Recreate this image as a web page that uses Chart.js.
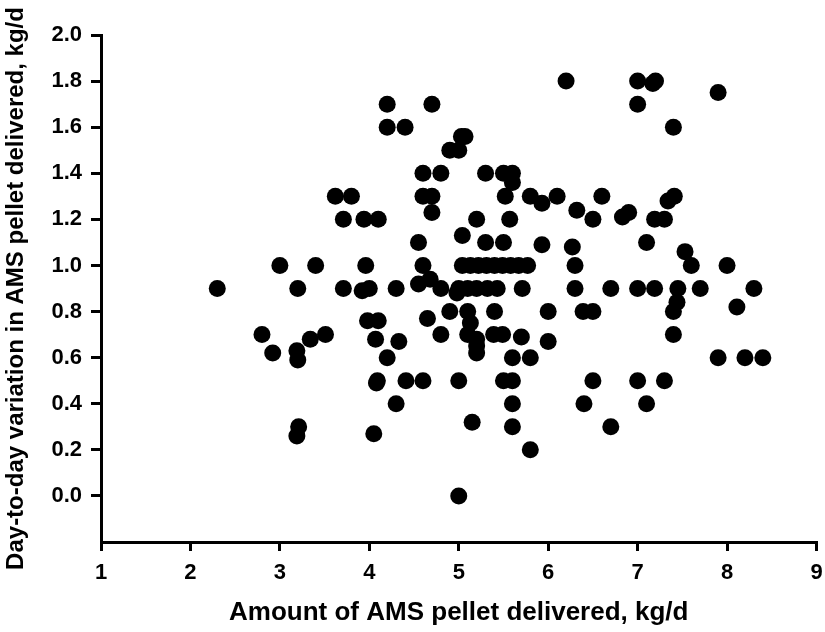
<!DOCTYPE html>
<html>
<head>
<meta charset="utf-8">
<script src="https://cdn.jsdelivr.net/npm/chart.js@4/dist/chart.umd.min.js"></script>
<style>
html,body{margin:0;padding:0;background:#fff;}
#wrap{width:825px;height:632px;}
</style>
</head>
<body>
<div id="wrap"><canvas id="c" width="825" height="632"></canvas></div>
<script>
const xTitle = 'Amount of AMS pellet delivered, kg/d';
const yTitle = 'Day-to-day variation in AMS pellet delivered, kg/d';
const xTickValues = [1,2,3,4,5,6,7,8,9];
const yTickValues = [0.0,0.2,0.4,0.6,0.8,1.0,1.2,1.4,1.6,1.8,2.0];

const amountDelivered = [
2.3,2.8,2.92,3.0,3.2,3.19,3.2,3.21,3.19,3.34,3.4,3.51,3.62,3.8,3.71,3.94,4.1,3.71,3.92,4.0,
3.96,3.98,4.1,4.07,4.33,4.09,4.08,4.2,4.41,4.3,4.3,4.05,4.2,4.2,4.4,4.7,4.9,5.0,5.03,5.07,
4.6,4.8,5.3,5.5,5.6,5.6,4.6,4.7,4.7,5.52,5.8,6.1,5.93,6.32,5.2,5.57,4.55,5.04,5.3,5.5,
5.93,6.27,4.6,4.55,4.68,4.8,5.04,5.13,5.22,5.31,5.4,5.49,5.58,5.67,5.77,5.0,5.1,5.2,5.32,5.43,
4.98,5.71,4.9,5.1,5.4,6.0,4.65,5.13,4.8,5.1,5.2,5.2,5.2,5.39,5.49,5.7,6.0,5.6,5.8,4.6,
5.0,5.5,5.6,5.6,5.15,5.6,5.8,5.0,6.3,6.2,7.0,7.17,7.2,7.0,7.9,7.4,6.6,7.41,7.34,6.5,
6.83,6.9,7.19,7.3,7.1,7.53,7.6,8.0,6.3,6.7,7.0,7.19,7.45,7.7,8.3,7.44,7.4,6.39,6.5,8.11,
7.4,7.9,8.2,8.4,6.5,7.0,7.3,6.4,7.1,6.7
];
const dayToDayVariation = [
0.9,0.7,0.62,1.0,0.9,0.63,0.59,0.3,0.26,0.68,1.0,0.7,1.3,1.3,1.2,1.2,1.2,0.9,0.89,0.9,
1.0,0.76,0.76,0.68,0.67,0.5,0.49,0.6,0.5,0.9,0.4,0.27,1.7,1.6,1.6,1.7,1.5,1.5,1.56,1.56,
1.4,1.4,1.4,1.4,1.4,1.36,1.3,1.3,1.23,1.3,1.3,1.3,1.27,1.24,1.2,1.2,1.1,1.13,1.1,1.1,
1.09,1.08,1.0,0.92,0.94,0.9,1.0,1.0,1.0,1.0,1.0,1.0,1.0,1.0,1.0,0.9,0.9,0.9,0.9,0.9,
0.88,0.9,0.8,0.8,0.8,0.8,0.77,0.75,0.7,0.7,0.68,0.65,0.62,0.7,0.7,0.69,0.67,0.6,0.6,0.5,
0.5,0.5,0.5,0.4,0.32,0.3,0.2,0.0,1.0,1.8,1.8,1.79,1.8,1.7,1.75,1.6,1.3,1.3,1.28,1.2,
1.21,1.23,1.2,1.2,1.1,1.06,1.0,1.0,0.9,0.9,0.9,0.9,0.9,0.9,0.9,0.84,0.8,0.8,0.8,0.82,
0.7,0.6,0.6,0.6,0.5,0.5,0.5,0.4,0.4,0.3
];

const points = amountDelivered.map((x,i)=>({x:x, y:dayToDayVariation[i]}));
const fam = '"Liberation Sans", Arial, sans-serif';
Chart.defaults.font.family = fam;
Chart.defaults.font.size = 22;
Chart.defaults.font.weight = 'bold';
Chart.defaults.color = '#000';
const tickFont = {family:fam, size:22, weight:'bold'};

new Chart(document.getElementById('c'), {
  type:'scatter',
  data:{datasets:[{
    data:points,
    backgroundColor:'#000',
    borderColor:'#000',
    pointRadius:8.5,
    pointHoverRadius:8.5,
    borderWidth:0
  }]},
  options:{
    responsive:false,
    animation:false,
    events:[],
    layout:{padding:{top:35,right:8,left:0,bottom:4}},
    plugins:{legend:{display:false},tooltip:{enabled:false}},
    scales:{
      x:{
        type:'linear', min:1, max:9,
        afterBuildTicks:(s)=>{s.ticks = xTickValues.map(v=>({value:v}));},
        afterFit:(s)=>{s.height = 86; s.paddingRight = 0; s.paddingLeft = 0;},
        ticks:{color:'#000', font:tickFont, padding:9, callback:(v)=>String(v)},
        grid:{drawOnChartArea:false, drawTicks:true, tickLength:9, color:'#000', lineWidth:3},
        border:{display:true, color:'#000', width:3},
        title:{display:true, text:xTitle, color:'#000', font:{family:fam, size:26, weight:'bold'}, padding:{top:2,bottom:0}}
      },
      y:{
        type:'linear', min:-0.2, max:2.0,
        afterBuildTicks:(s)=>{s.ticks = yTickValues.map(v=>({value:v}));},
        afterFit:(s)=>{s.width = 101; s.paddingTop = 0; s.paddingBottom = 0;},
        ticks:{color:'#000', font:tickFont, padding:9, callback:(v)=>Number(v).toFixed(1)},
        grid:{drawOnChartArea:false, drawTicks:true, tickLength:10, color:'#000', lineWidth:3},
        border:{display:true, color:'#000', width:3},
        title:{display:true, text:yTitle, color:'#000', font:{family:fam, size:24, weight:'bold'}, padding:{top:2,bottom:0}}
      }
    }
  }
});
</script>
</body>
</html>
